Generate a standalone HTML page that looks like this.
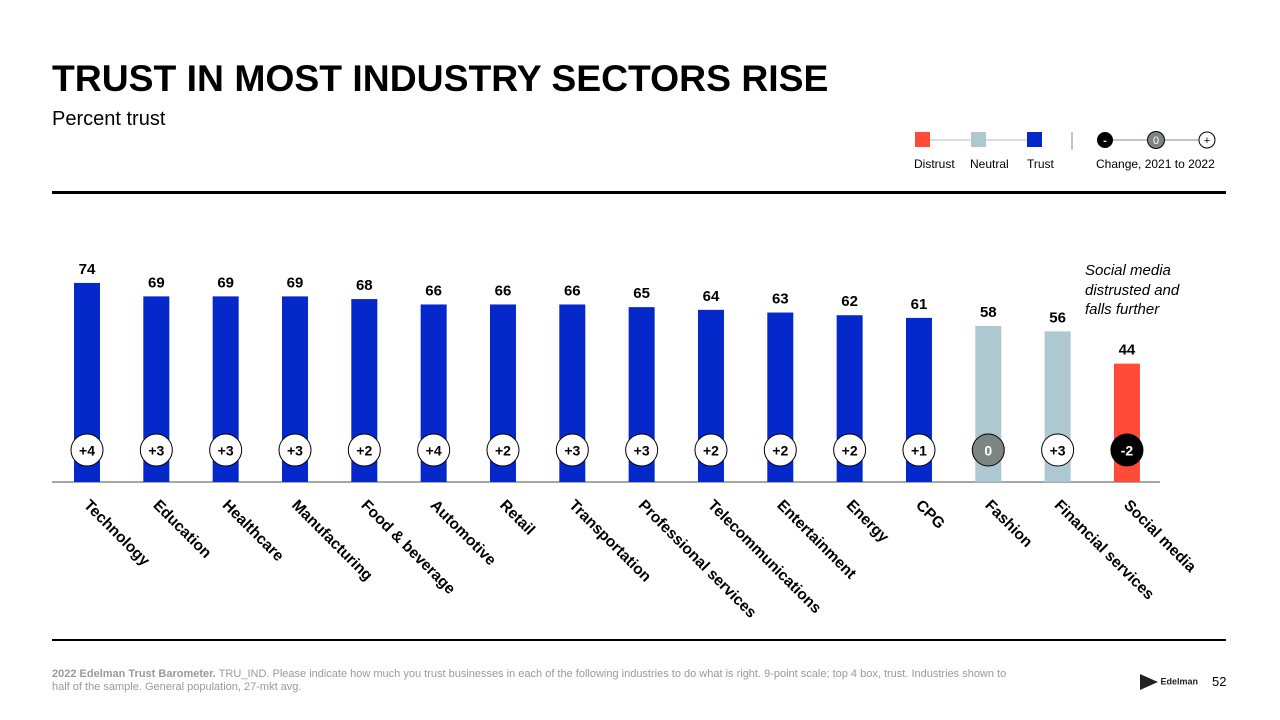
<!DOCTYPE html>
<html><head><meta charset="utf-8"><style>
body{margin:0;width:1280px;height:720px;background:#fff;font-family:"Liberation Sans",Arial,sans-serif;position:relative;overflow:hidden}
.abs{position:absolute}
</style></head><body>
<div class="abs" style="left:52px;top:57px;font-size:37.3px;font-weight:bold;color:#000">TRUST IN MOST INDUSTRY SECTORS RISE</div>
<div class="abs" style="left:52px;top:108px;font-size:20px;color:#000">Percent trust</div>
<div class="abs" style="left:52px;top:191px;width:1174px;height:3px;background:#000"></div>
<div class="abs" style="left:52px;top:639px;width:1174px;height:2px;background:#000"></div>
<div class="abs" style="left:52px;top:668px;width:975px;font-size:11px;line-height:13px;color:#999"><b>2022 Edelman Trust Barometer.</b> TRU_IND. Please indicate how much you trust businesses in each of the following industries to do what is right. 9-point scale; top 4 box, trust. Industries shown to half of the sample. General population, 27-mkt avg.</div>
<div class="abs" style="left:1140px;top:674px;font-size:9px;font-weight:bold;color:#222"><span style="display:inline-block;width:0;height:0;border-top:8px solid transparent;border-bottom:8px solid transparent;border-left:18px solid #222;vertical-align:middle"></span> Edelman</div>
<div class="abs" style="left:1212px;top:674px;font-size:13px;color:#000">52</div>
<div class="abs" style="left:1085px;top:261px;font-size:15px;font-style:italic;line-height:19.5px;color:#000">Social media<br>distrusted and<br>falls further</div>
<svg class="abs" style="left:0;top:0" width="1280" height="720" id="chart">
<g font-size="12" fill="#000">
<line x1="922" y1="140" x2="1035" y2="140" stroke="#bbb"/>
<rect x="915" y="132" width="15" height="15" fill="#ff4b38"/>
<rect x="971" y="132" width="15" height="15" fill="#aec8d2"/>
<rect x="1027" y="132" width="15" height="15" fill="#0428c9"/>
<text x="914" y="168">Distrust</text><text x="970" y="168">Neutral</text><text x="1027" y="168">Trust</text>
<line x1="1072" y1="132" x2="1072" y2="150" stroke="#888"/>
<line x1="1105" y1="140" x2="1207" y2="140" stroke="#888"/>
<circle cx="1105" cy="140" r="8" fill="#000"/><text x="1105" y="144" fill="#fff" font-size="11" text-anchor="middle" font-weight="bold">-</text>
<circle cx="1156" cy="140" r="8.5" fill="#7d8583" stroke="#000"/><text x="1156" y="144" fill="#fff" font-size="11" text-anchor="middle">0</text>
<circle cx="1207" cy="140" r="8" fill="#fff" stroke="#000"/><text x="1207" y="144" font-size="11" text-anchor="middle">+</text>
<text x="1096" y="168">Change, 2021 to 2022</text>
</g>
<line x1="52" y1="482" x2="1160" y2="482" stroke="#888" stroke-width="1.5"/>
<g id="bars"></g>
</svg>
<script>
const categories=["Technology","Education","Healthcare","Manufacturing","Food & beverage","Automotive","Retail","Transportation","Professional services","Telecommunications","Entertainment","Energy","CPG","Fashion","Financial services","Social media"];
const values=[74,69,69,69,68,66,66,66,65,64,63,62,61,58,56,44];
const changes=["+4","+3","+3","+3","+2","+4","+2","+3","+3","+2","+2","+2","+1","0","+3","-2"];
const levels=["trust","trust","trust","trust","trust","trust","trust","trust","trust","trust","trust","trust","trust","neutral","neutral","distrust"];
const NS="http://www.w3.org/2000/svg";
const g=document.getElementById('bars');
const xPos=i=>87+i*69.33;
const yPos=v=>482-v*2.69;
const colors={trust:"#0428c9",neutral:"#aec8d2",distrust:"#ff4b38"};
function mk(t,a){const e=document.createElementNS(NS,t);for(const k in a)e.setAttribute(k,a[k]);g.appendChild(e);return e;}
categories.forEach((c,i)=>{
 const x=xPos(i),y=yPos(values[i]);
 const r=mk('rect',{x:x-13,y:y,width:26,height:482-y,fill:colors[levels[i]]});
 
 
 const t=mk('text',{x:x,y:y-9,'text-anchor':'middle','font-size':15,'font-weight':'bold'});
 t.textContent=values[i];
 
 
 const ch=changes[i];
 const fill=ch==="0"?"#7d8583":(ch[0]==="-"?"#000":"#fff");
 const cc=mk('circle',{cx:x,cy:450,r:16,fill:fill,stroke:"#000","stroke-width":1});
 
 
 const ct=mk('text',{x:x,y:455.5,'text-anchor':'middle','font-size':14,'font-weight':'bold',fill:(fill==="#fff"?"#000":"#fff")});
 ct.textContent=ch;
 
 
 const lx=x-4,ly=506;
 const lt=mk('text',{x:lx,y:ly,'font-size':15.5,'font-weight':'bold',transform:`rotate(45 ${lx} ${ly})`});
 lt.textContent=c;
 
 
});
</script>
</body></html>
